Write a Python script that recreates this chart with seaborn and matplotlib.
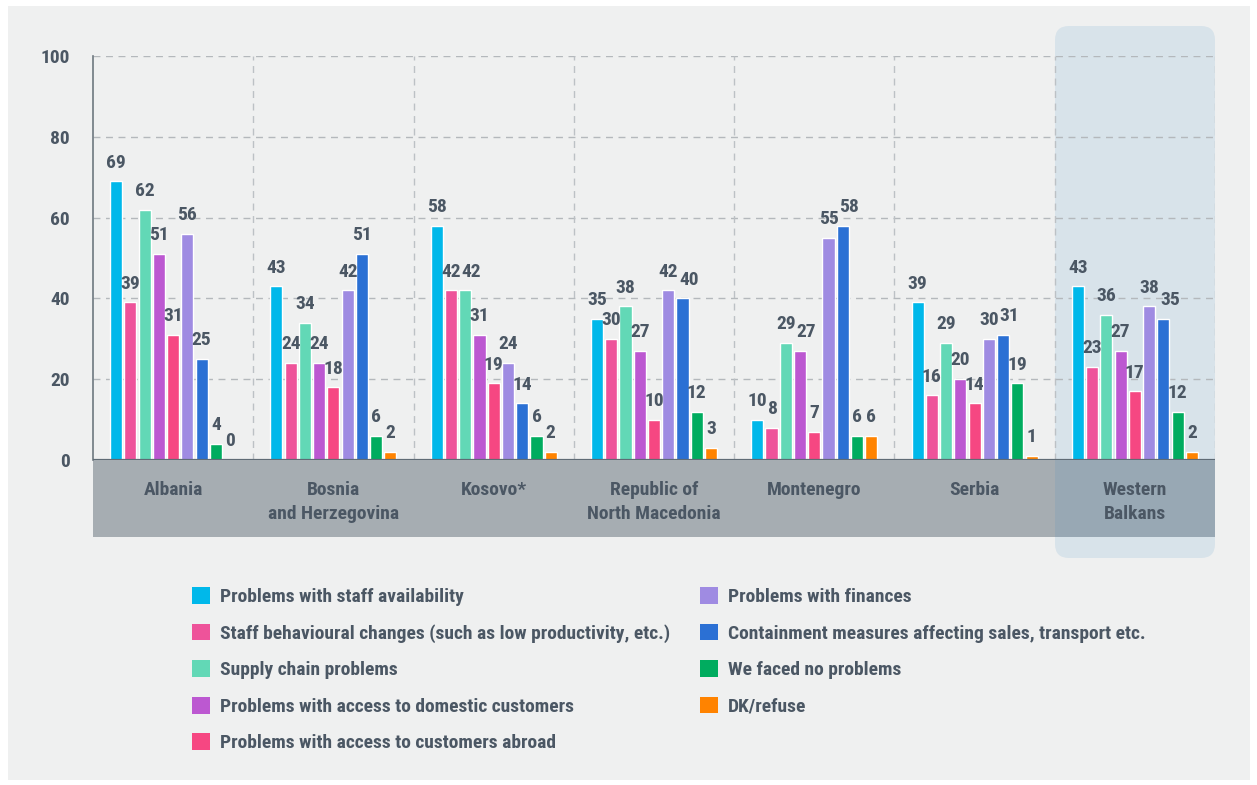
import matplotlib
matplotlib.use("Agg")
import matplotlib.pyplot as plt
from matplotlib import font_manager as fm
from matplotlib.patches import Rectangle, FancyBboxPatch, Patch
from matplotlib.transforms import IdentityTransform
import seaborn as sns
import pandas as pd

# ---- data -------------------------------------------------------------
countries = ["Albania", "Bosnia\nand Herzegovina", "Kosovo*", "Republic of\nNorth Macedonia",
             "Montenegro", "Serbia", "Western\nBalkans"]
series = [
    "Problems with staff availability",
    "Staff behavioural changes (such as low productivity, etc.)",
    "Supply chain problems",
    "Problems with access to domestic customers",
    "Problems with access to customers abroad",
    "Problems with finances",
    "Containment measures affecting sales, transport etc.",
    "We faced no problems",
    "DK/refuse",
]
staff_availability = [69, 43, 58, 35, 10, 39, 43]
staff_behaviour = [39, 24, 42, 30, 8, 16, 23]
supply_chain = [62, 34, 42, 38, 29, 29, 36]
domestic_customers = [51, 24, 31, 27, 27, 20, 27]
customers_abroad = [31, 18, 19, 10, 7, 14, 17]
finances = [56, 42, 24, 42, 55, 30, 38]
containment = [25, 51, 14, 40, 58, 31, 35]
no_problems = [4, 6, 6, 12, 6, 19, 12]
dk_refuse = [0, 2, 2, 3, 6, 1, 2]
values = [staff_availability, staff_behaviour, supply_chain, domestic_customers,
          customers_abroad, finances, containment, no_problems, dk_refuse]
y_ticks = [0, 20, 40, 60, 80, 100]

colors = ["#00b8ea", "#ee539a", "#62d8b6", "#bc58d1", "#f64782",
          "#9f8be2", "#2b70d4", "#00ac5f", "#ff8300"]

rows = []
for s, vals in zip(series, values):
    for c, v in zip(countries, vals):
        rows.append({"country": c, "series": s, "value": v})
df = pd.DataFrame(rows)

# ---- style ------------------------------------------------------------
sns.set_theme(style="white")

# prefer a narrow bold face
fonts = fm.fontManager.ttflist
names = {f.name for f in fonts}
stretch = "normal"
if "Roboto Condensed" in names:
    family, FS, LFS, VFS = ["Roboto Condensed", "DejaVu Sans"], 14, 14, 14
elif "Liberation Sans Narrow" in names:
    family, FS, LFS, VFS = ["Liberation Sans Narrow", "DejaVu Sans"], 14, 14, 14
elif any(f.name == "DejaVu Sans" and f.stretch == "condensed" for f in fonts):
    family, FS, LFS, VFS = ["DejaVu Sans"], 11.5, 11.5, 11.5
    stretch = "condensed"
elif "Roboto" in names:
    family, FS, LFS, VFS = ["Roboto", "DejaVu Sans"], 12.5, 11.7, 12
else:
    family, FS, LFS, VFS = ["DejaVu Sans"], 11, 11, 11
plt.rcParams["font.family"] = family
plt.rcParams["font.weight"] = "bold"
plt.rcParams["font.stretch"] = stretch
TXT = "#4b5764"

W, H = 1257, 785
DPI = 100
fig = plt.figure(figsize=(W / DPI, H / DPI), dpi=DPI, facecolor="white")

# light panel behind everything
fig.patches.append(Rectangle((8, 5), 1242, 774, transform=IdentityTransform(),
                             facecolor="#eff0f0", edgecolor="none", zorder=-3))
# highlight for the regional total
fig.patches.append(FancyBboxPatch((1055 + 14, 227 + 14), 160 - 28, 532 - 28,
                                  boxstyle="round,pad=14",
                                  transform=IdentityTransform(),
                                  facecolor="#d8e3ea", edgecolor="none", zorder=-2))

ax = fig.add_axes([93 / W, (H - 460) / H, 1122 / W, 404 / H])
ax.patch.set_alpha(0)

sns.barplot(data=df, x="country", y="value", hue="series", hue_order=series,
            order=countries, palette=colors, saturation=1, width=0.8, gap=0.15,
            legend=False, ax=ax, zorder=3)

ax.set_ylim(0, 100)
ax.set_xlim(-0.5, len(countries) - 0.5)
ax.set_yticks(y_ticks)
ax.set_xlabel("")
ax.set_ylabel("")

# gridlines and group separators
for y in y_ticks[1:]:
    ax.axhline(y, color="#b4b8bc", lw=1, ls=(0, (5, 4)), zorder=1)
for k in range(len(countries)):
    ax.axvline(k + 0.5, color="#bcc1c5", lw=1, ls=(0, (5, 4)), zorder=1)

for side in ["top", "right", "bottom"]:
    ax.spines[side].set_visible(False)
ax.spines["left"].set_color("#6e7880")
ax.spines["left"].set_linewidth(1.2)
ax.axhline(0, color="#5f6b75", lw=1.6, zorder=4)

# category band under the axis
band_h = 77 / 404
ax.add_patch(Rectangle((0, -band_h), 1, band_h, transform=ax.transAxes,
                       facecolor="#a6adb2", edgecolor="none", clip_on=False, zorder=0))
ax.add_patch(Rectangle((6 / 7, -band_h), 1 / 7, band_h, transform=ax.transAxes,
                       facecolor="#98a8b4", edgecolor="none", clip_on=False, zorder=0))

ax.tick_params(axis="y", length=0, pad=16.5, labelsize=FS, labelcolor=TXT)
ax.tick_params(axis="x", length=0, pad=15, labelsize=FS, labelcolor=TXT)
for lab in ax.get_yticklabels():
    lab.set_fontweight("bold")
for lab in ax.get_xticklabels():
    lab.set_fontweight("bold")
    lab.set_linespacing(1.45)
    lab.set_multialignment("center")

# value labels
label_sets = []
for cont in ax.containers:
    label_sets.append(ax.bar_label(cont, fmt="%d", padding=7, fontsize=VFS, color=TXT,
                                   fontweight="bold", zorder=5))

# nudge a label sideways when it collides with its left neighbour
fig.canvas.draw()
renderer = fig.canvas.get_renderer()
for g in range(len(countries)):
    for i in range(1, len(label_sets)):
        prev = label_sets[i - 1][g].get_window_extent(renderer)
        cur_ann = label_sets[i][g]
        cur = cur_ann.get_window_extent(renderer)
        if prev.overlaps(cur):
            shift_px = prev.x1 - cur.x0 + 1
            dx, dy = cur_ann.xyann
            cur_ann.xyann = (dx + shift_px * 72 / DPI, dy)

# legend in two columns
handles = [Patch(facecolor=c, edgecolor="none", label=s) for c, s in zip(colors, series)]
common = dict(frameon=False, labelcolor=TXT, loc="upper left",
              handlelength=0.95, handleheight=0.95, handletextpad=0.5,
              labelspacing=0.9, borderpad=0, borderaxespad=0,
              prop={"weight": "bold", "size": LFS, "stretch": stretch})
fig.legend(handles=handles[:5], bbox_to_anchor=(192 / W, (H - 587) / H), **common)
fig.legend(handles=handles[5:], bbox_to_anchor=(700 / W, (H - 587) / H), **common)

fig.savefig("out.png", dpi=DPI, facecolor="white")
